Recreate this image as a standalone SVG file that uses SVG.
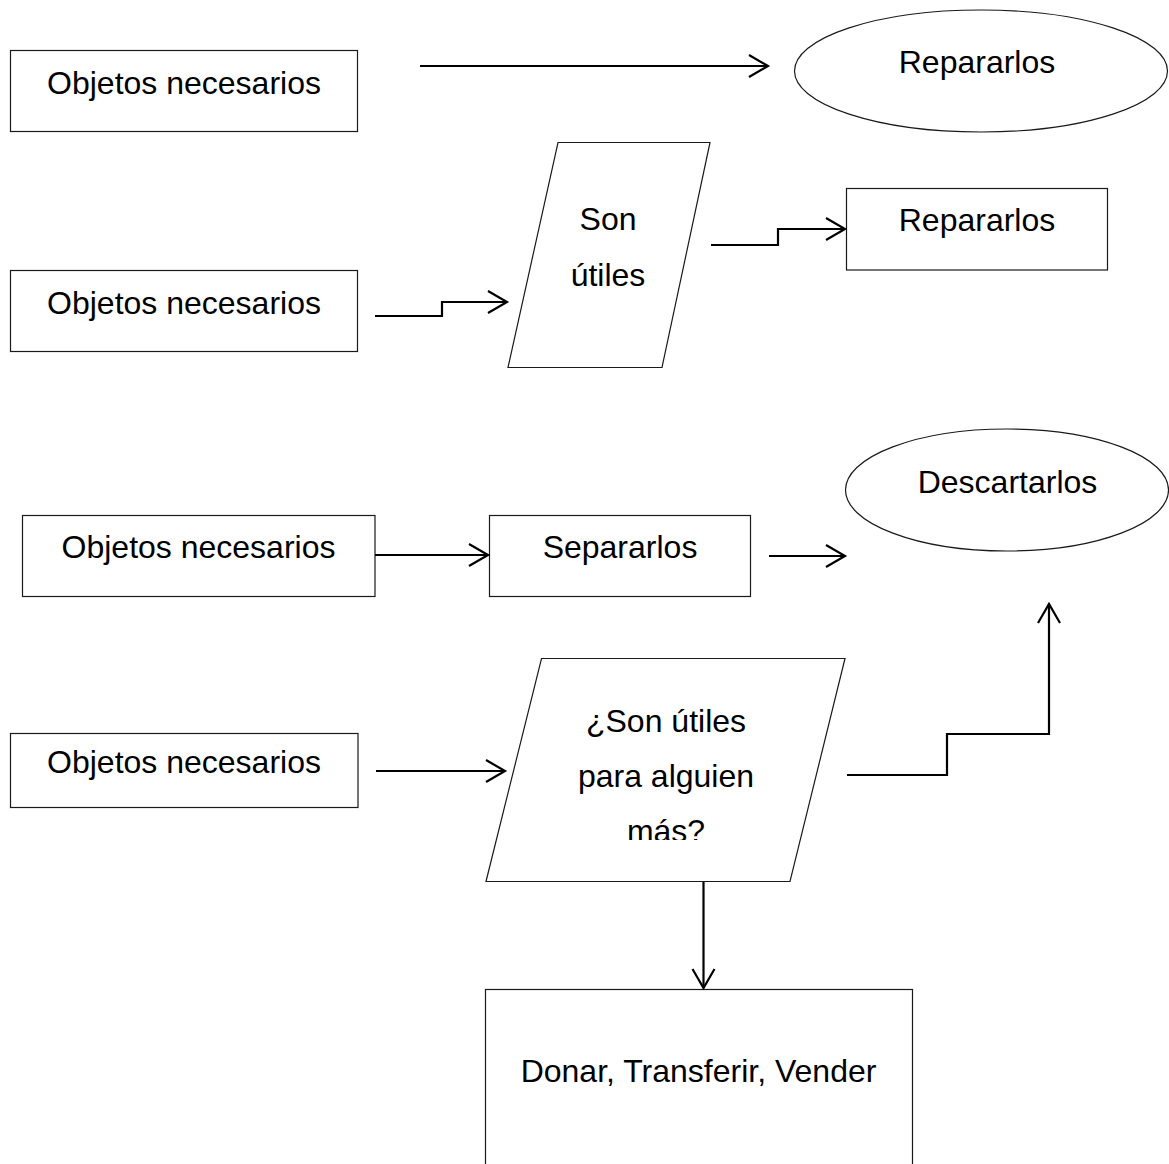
<svg xmlns="http://www.w3.org/2000/svg" width="1169" height="1164" viewBox="0 0 1169 1164">
<style>
.shape{fill:#fff;stroke:#1a1a1a;stroke-width:1.2}
.lbl{font-family:"Liberation Sans",Arial,sans-serif;font-size:32px;fill:#000;text-anchor:middle}
.conn{fill:none;stroke:#000;stroke-width:2.2}
</style>
<defs>
<marker id="arr" markerUnits="userSpaceOnUse" markerWidth="24" markerHeight="26" viewBox="0 0 24 26" refX="21" refY="13" orient="auto">
<path d="M2,2 L21,13 L2,24" fill="none" stroke="#000" stroke-width="2.2"/>
</marker>
<clipPath id="clipQ"><rect x="480" y="650" width="380" height="190"/></clipPath>
</defs>
<rect width="1169" height="1164" fill="#fff"/>

<g id="n-obj1"><rect class="shape" x="10.5" y="50.5" width="347" height="81"/><text class="lbl" x="184" y="94">Objetos necesarios</text></g>
<g id="n-rep1"><ellipse class="shape" cx="981" cy="71" rx="186.5" ry="61"/><text class="lbl" x="977" y="73">Repararlos</text></g>

<g id="n-obj2"><rect class="shape" x="10.5" y="270.5" width="347" height="81"/><text class="lbl" x="184" y="314">Objetos necesarios</text></g>
<g id="n-util"><polygon class="shape" points="558,142.5 710,142.5 662,367.5 508,367.5"/><text class="lbl" x="608" y="230">Son</text><text class="lbl" x="608" y="285.5">útiles</text></g>
<g id="n-rep2"><rect class="shape" x="846.5" y="188.5" width="261" height="81.5"/><text class="lbl" x="977" y="231">Repararlos</text></g>

<g id="n-obj3"><rect class="shape" x="22.5" y="515.5" width="352.5" height="81"/><text class="lbl" x="198.5" y="558">Objetos necesarios</text></g>
<g id="n-sep"><rect class="shape" x="489.5" y="515.5" width="261" height="81"/><text class="lbl" x="620" y="558">Separarlos</text></g>
<g id="n-desc"><ellipse class="shape" cx="1007" cy="490" rx="161.5" ry="61"/><text class="lbl" x="1007.5" y="493">Descartarlos</text></g>

<g id="n-obj4"><rect class="shape" x="10.5" y="733.5" width="347.5" height="74"/><text class="lbl" x="184" y="773">Objetos necesarios</text></g>
<g id="n-q"><polygon class="shape" points="541.5,658.5 845,658.5 790,881.5 486,881.5"/>
<g clip-path="url(#clipQ)"><text class="lbl" x="666" y="731.5">¿Son útiles</text><text class="lbl" x="666" y="786.5">para alguien</text><text class="lbl" x="666" y="841.5">más?</text></g></g>
<g id="n-don"><rect class="shape" x="485.5" y="989.5" width="427" height="220"/><text class="lbl" x="698.5" y="1082">Donar, Transferir, Vender</text></g>

<g id="connectors">
<path class="conn" marker-end="url(#arr)" d="M420,66 H768"/>
<path class="conn" marker-end="url(#arr)" d="M375,316 H442 V302 H507"/>
<path class="conn" marker-end="url(#arr)" d="M711,245 H778 V229 H845"/>
<path class="conn" marker-end="url(#arr)" d="M375,555 H488"/>
<path class="conn" marker-end="url(#arr)" d="M769,556 H845"/>
<path class="conn" marker-end="url(#arr)" d="M847,775 H947 V734 H1049 V604"/>
<path class="conn" marker-end="url(#arr)" d="M376,771 H505"/>
<path class="conn" marker-end="url(#arr)" d="M703.5,882 V988"/>
</g>
</svg>
